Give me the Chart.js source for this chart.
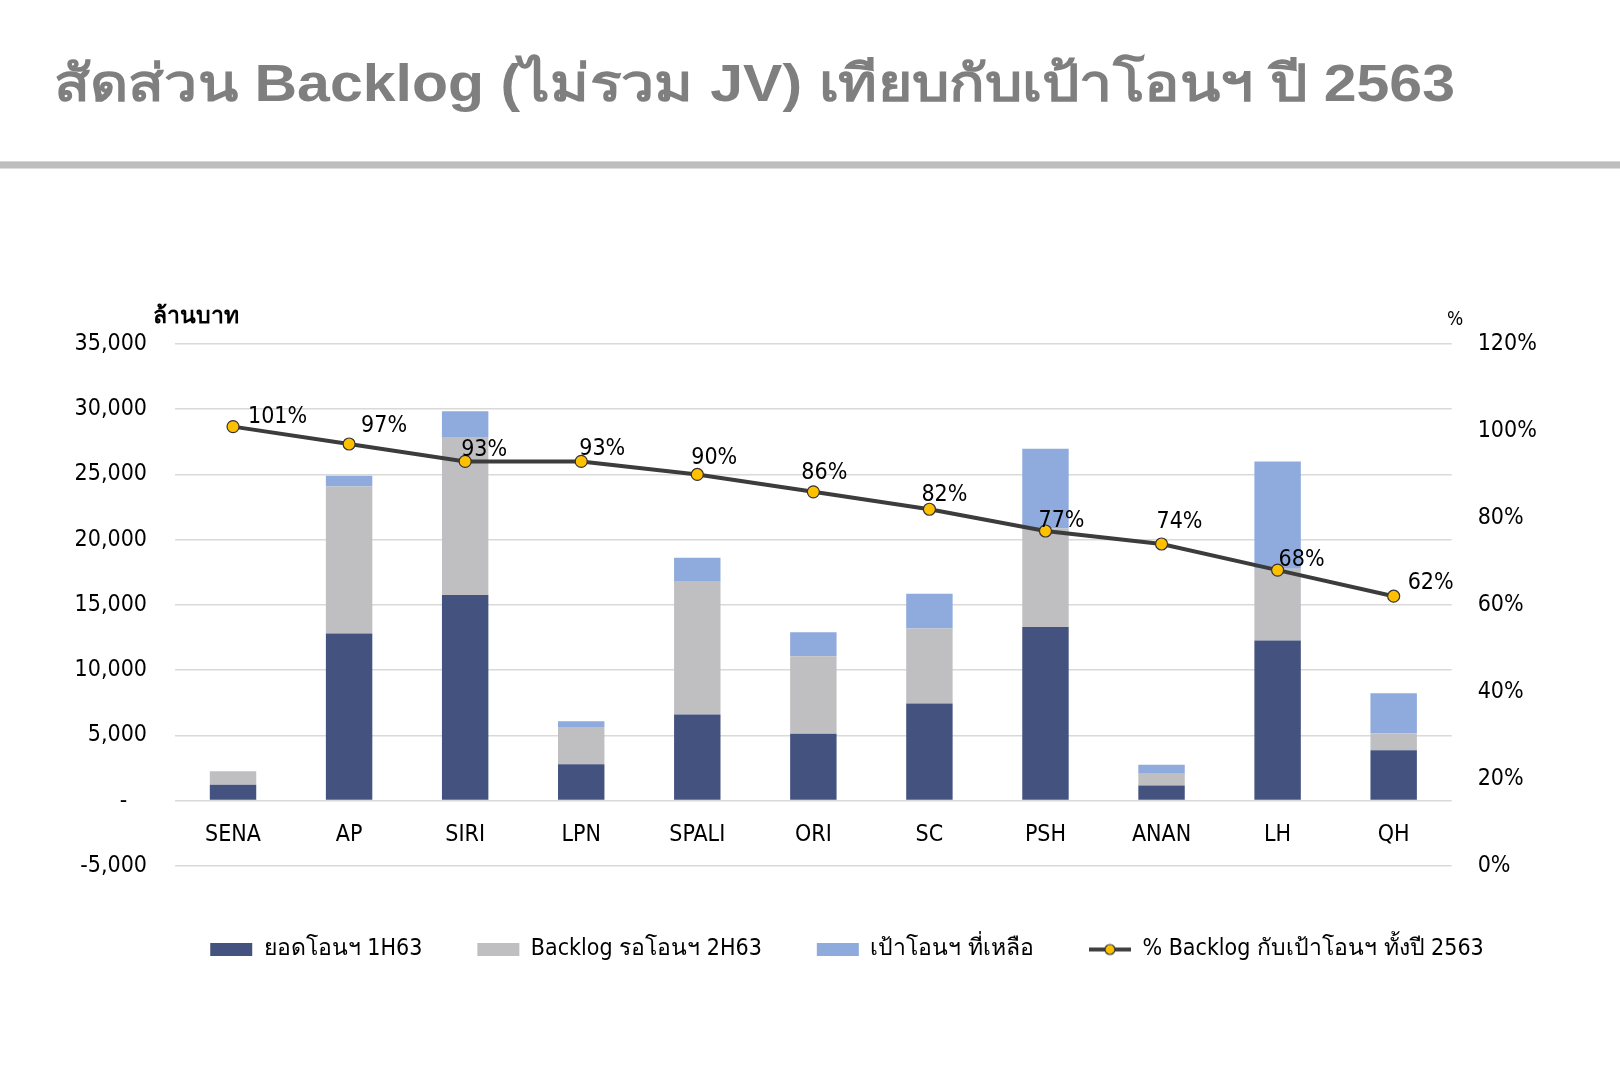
<!DOCTYPE html>
<html>
<head>
<meta charset="utf-8">
<script src="https://cdn.jsdelivr.net/npm/chart.js@4.4.1/dist/chart.umd.min.js"></script>
<style>
  html, body { margin: 0; padding: 0; background: #fff; }
  #wrap { position: relative; width: 1620px; height: 1078px; overflow: hidden; }
  #title {
    position: absolute; left: 54px; top: 58px;
    font: bold 51px 'Liberation Sans', 'Noto Sans', sans-serif;
    line-height: 51px; color: #7f7f7f; white-space: nowrap;
    transform-origin: 0 0;
  }
  #rule { position: absolute; left: 0; top: 161px; width: 1620px; height: 8px;
    background: #bdbdbd; border-top: 1px solid #d6d6d6; border-bottom: 1px solid #dcdcdc; box-sizing: border-box; }
  #myChart { position: absolute; left: 0; top: 0; }
</style>
</head>
<body>
<div id="wrap">
  <div id="title">สัดส่วน Backlog (ไม่รวม JV) เทียบกับเป้าโอนฯ ปี 2563</div>
  <div id="rule"></div>
  <canvas id="myChart" width="1620" height="1078"></canvas>
</div>
<script>
// data (ล้านบาท)
var companies = ['SENA', 'AP', 'SIRI', 'LPN', 'SPALI', 'ORI', 'SC', 'PSH', 'ANAN', 'LH', 'QH'];
var transferred1H = [1220, 12800, 15750, 2790, 6590, 5130, 7450, 13300, 1150, 12270, 3860];
var backlog2H = [1030, 11280, 12120, 2850, 10190, 5930, 5750, 7550, 900, 5500, 1300];
var remainingTarget = [0, 820, 1980, 450, 1840, 1850, 2660, 6120, 700, 8230, 3070];
var backlogPct = [1.01, 0.97, 0.93, 0.93, 0.90, 0.86, 0.82, 0.77, 0.74, 0.68, 0.62];
var leftTicks = [-5000, 0, 5000, 10000, 15000, 20000, 25000, 30000, 35000];
var rightTicks = [0, 0.2, 0.4, 0.6, 0.8, 1.0, 1.2];

// hand-placed label nudges, like the original slide
var labelDx = [15, 12, -4, -2, -6, -12, -8, -7, -5, 1, 14];
var labelDy = [-10, -18, -11, -12, -16, -19, -14, -10, -22, -10, -13];

var FONT = "Tahoma, 'DejaVu Sans Condensed', 'DejaVu Sans', sans-serif";

// fit the title to its width on the slide
var t = document.getElementById('title');
t.style.transform = 'scaleX(' + (1401 / t.getBoundingClientRect().width) + ')';

// legend swatch for the line: line with a dot
var lineSwatch = document.createElement('canvas');
lineSwatch.width = 42; lineSwatch.height = 14;
(function () {
  var c = lineSwatch.getContext('2d');
  c.strokeStyle = '#404040'; c.lineWidth = 4;
  c.beginPath(); c.moveTo(0, 7); c.lineTo(42, 7); c.stroke();
  c.beginPath(); c.arc(21, 7, 5, 0, Math.PI * 2);
  c.fillStyle = '#ffc000'; c.fill();
  c.lineWidth = 1.2; c.strokeStyle = '#333'; c.stroke();
})();

var extras = {
  id: 'extras',
  afterDatasetsDraw: function (chart) {
    var ctx = chart.ctx;
    var meta = chart.getDatasetMeta(3);
    ctx.save();
    ctx.font = '23px ' + FONT;
    ctx.fillStyle = '#000';
    ctx.textAlign = 'left';
    ctx.textBaseline = 'middle';
    meta.data.forEach(function (pt, i) {
      ctx.fillText(Math.round(backlogPct[i] * 100) + '%', pt.x + labelDx[i], pt.y + labelDy[i]);
    });
    ctx.font = 'bold 23px ' + FONT;
    ctx.fillText('ล้านบาท', 153, 317);
    ctx.font = '19px ' + FONT;
    ctx.fillText('%', 1447, 320);
    ctx.restore();
  }
};

var ctx = document.getElementById('myChart');
var myChart = new Chart(ctx, {
  type: 'bar',
  data: {
    labels: companies,
    datasets: [{
      label: 'ยอดโอนฯ 1H63',
      data: transferred1H,
      backgroundColor: '#44527f',
      stack: 's'
    }, {
      label: 'Backlog รอโอนฯ 2H63',
      data: backlog2H,
      backgroundColor: '#bfbfc1',
      stack: 's'
    }, {
      label: 'เป้าโอนฯ ที่เหลือ',
      data: remainingTarget,
      backgroundColor: '#8faadc',
      stack: 's'
    }, {
      type: 'line',
      label: '% Backlog กับเป้าโอนฯ ทั้งปี 2563',
      data: backlogPct,
      yAxisID: 'y1',
      order: -1,
      borderColor: '#3c3c3c',
      borderWidth: 4,
      pointRadius: 6,
      pointBackgroundColor: '#ffc000',
      pointBorderColor: '#333',
      pointBorderWidth: 1.2,
      tension: 0
    }]
  },
  options: {
    responsive: false,
    animation: false,
    layout: { padding: { left: 74, right: 0, top: 344, bottom: 107 } },
    datasets: { bar: { categoryPercentage: 0.8, barPercentage: 0.5 } },
    scales: {
      x: {
        stacked: true,
        position: { y: 0 },
        grid: { display: false },
        border: { display: false },
        ticks: { color: '#000', font: { family: FONT, size: 23 }, padding: 13 }
      },
      y: {
        stacked: true,
        min: -5000, max: 35000,
        afterFit: function (s) { s.width = 101; },
        afterBuildTicks: function (s) { s.ticks = leftTicks.map(function (v) { return { value: v }; }); },
        grid: { color: '#d9d9d9', lineWidth: 1.6, drawTicks: false },
        border: { display: false },
        ticks: {
          color: '#000', padding: 28, font: { family: FONT, size: 23 },
          callback: function (v) { return v === 0 ? '-   ' : v.toLocaleString('en-US'); }
        }
      },
      y1: {
        position: 'right',
        min: 0, max: 1.2,
        afterFit: function (s) { s.width = 168.3; },
        afterBuildTicks: function (s) { s.ticks = rightTicks.map(function (v) { return { value: v }; }); },
        grid: { display: false, drawTicks: false },
        border: { display: false },
        ticks: {
          color: '#000', padding: 26, font: { family: FONT, size: 23 },
          callback: function (v) { return Math.round(v * 100) + '%'; }
        }
      }
    },
    plugins: {
      tooltip: { enabled: false },
      legend: {
        position: 'bottom',
        title: { display: true, text: ' ', font: { size: 1 }, padding: { top: 16, bottom: 0 } },
        labels: {
          usePointStyle: true,
          pointStyleWidth: 42,
          boxHeight: 13,
          padding: 55,
          color: '#000',
          font: { family: FONT, size: 23 },
          sort: function (a, b) { return a.datasetIndex - b.datasetIndex; },
          generateLabels: function (chart) {
            var items = Chart.defaults.plugins.legend.labels.generateLabels(chart);
            items.forEach(function (it) {
              if (it.datasetIndex === 3) { it.pointStyle = lineSwatch; }
              else { it.pointStyle = 'rect'; it.lineWidth = 0; }
            });
            return items;
          }
        }
      }
    }
  },
  plugins: [extras]
});
</script>
</body>
</html>
